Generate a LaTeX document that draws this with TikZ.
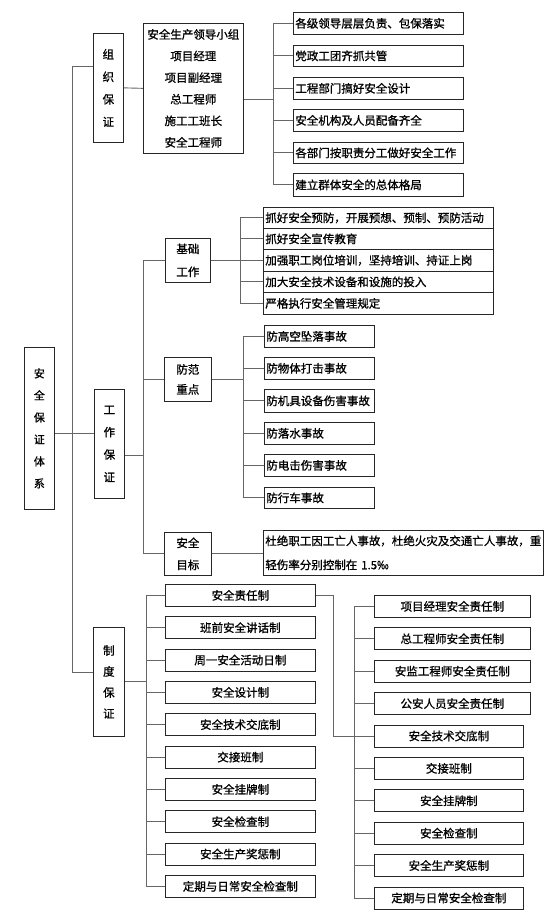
\documentclass[tikz,border=0pt]{standalone}
\usepackage{fontspec}
\newfontfamily\cjk[FakeBold=1]{Noto Sans CJK SC}
\usetikzlibrary{calc}
\tikzset{
  box/.style={draw=black!85, line width=0.7pt, inner sep=0pt, align=center,
    font=\cjk\fontsize{11.5}{22}\selectfont},
  conn/.style={draw=black!60, line width=0.9pt},
}
\newcommand\mybox[7][]{%
  \pgfmathsetmacro\bw{#5-#3}\pgfmathsetmacro\bh{#6-#4}%
  \node[box,anchor=north west,minimum width=\bw pt,minimum height=\bh pt,#1] (#2) at (#3,#4) {#7};}
\newcommand\lbox[7][]{%
  \pgfmathsetmacro\bw{#5-#3}\pgfmathsetmacro\bh{#6-#4}\pgfmathsetmacro\tw{#5-#3-4}%
  \node[box,anchor=north west,minimum width=\bw pt,minimum height=\bh pt,
    text width=\tw pt,inner xsep=2pt,align=left,#1] (#2) at (#3,#4) {#7};}
\begin{document}
\begin{tikzpicture}[x=1pt,y=-1pt]
\useasboundingbox (0,0) rectangle (554,918);
% root and level 1
\mybox[font=\cjk\fontsize{11}{22}\selectfont]{root}{24}{347}{54}{509}{安\\全\\保\\证\\体\\系}
\mybox[font=\cjk\fontsize{11.5}{22.5}\selectfont]{zz}{93}{33}{123}{142}{组\\织\\保\\证}
\mybox[font=\cjk\fontsize{11.5}{22.5}\selectfont]{gz}{94}{389}{124}{498}{工\\作\\保\\证}
\mybox[font=\cjk\fontsize{11.5}{21}\selectfont]{zd}{93}{627}{124}{736}{制\\度\\保\\证}
% organisation
\mybox[font=\cjk\fontsize{11.5}{21.6}\selectfont]{lead}{143}{23}{243}{153}{安全生产领导小组\\项目经理\\项目副经理\\总工程师\\施工工班长\\安全工程师}
\lbox{z1}{293}{12}{463}{34}{各级领导层层负责、包保落实}
\lbox{z2}{293}{45}{463}{66}{党政工团齐抓共管}
\lbox{z3}{293}{77}{463}{99}{工程部门搞好安全设计}
\lbox{z4}{293}{109}{463}{131}{安全机构及人员配备齐全}
\lbox{z5}{293}{142}{463}{163}{各部门按职责分工做好安全工作}
\lbox{z6}{293}{173}{463}{196}{建立群体安全的总体格局}
% work
\mybox[font=\cjk\fontsize{11.5}{23}\selectfont]{jc}{165}{238}{210}{282}{基础\\工作}
\lbox{j1}{263}{207}{493}{228}{抓好安全预防，开展预想、预制、预防活动}
\lbox{j2}{263}{228}{493}{249}{抓好安全宣传教育}
\lbox{j3}{263}{249}{493}{271}{加强职工岗位培训，坚持培训、持证上岗}
\lbox{j4}{263}{271}{493}{292}{加大安全技术设备和设施的投入}
\lbox{j5}{263}{292}{493}{314}{严格执行安全管理规定}
\mybox[font=\cjk\fontsize{11.5}{20}\selectfont]{fz}{164}{357}{211}{401}{防范\\重点}
\lbox{f1}{264}{325}{374}{347}{防高空坠落事故}
\lbox{f2}{264}{357}{374}{379}{防物体打击事故}
\lbox{f3}{264}{389}{374}{412}{防机具设备伤害事故}
\lbox{f4}{264}{422}{374}{444}{防落水事故}
\lbox{f5}{264}{454}{374}{476}{防电击伤害事故}
\lbox{f6}{264}{487}{374}{508}{防行车事故}
\mybox[font=\cjk\fontsize{11.5}{22}\selectfont]{aq}{164}{532}{211}{575}{安全\\目标}
\lbox[font=\cjk\fontsize{11.5}{24}\selectfont]{at}{263}{530}{543}{575}{杜绝职工因工亡人事故，杜绝火灾及交通亡人事故，重\\轻伤率分别控制在 1.5‰}
% system
\mybox{d1}{165}{584}{315}{606}{安全责任制}
\mybox{d2}{165}{616.3}{315}{638.3}{班前安全讲话制}
\mybox{d3}{165}{648.7}{315}{670.7}{周一安全活动日制}
\mybox{d4}{165}{681}{315}{703}{安全设计制}
\mybox{d5}{165}{713.3}{315}{735.3}{安全技术交底制}
\mybox{d6}{165}{745.7}{315}{767.7}{交接班制}
\mybox{d7}{165}{778}{315}{800}{安全挂牌制}
\mybox{d8}{165}{810.3}{315}{832.3}{安全检查制}
\mybox{d9}{165}{842.7}{315}{864.7}{安全生产奖惩制}
\mybox{d10}{165}{875}{315}{897}{定期与日常安全检查制}
\mybox{r1}{374}{595}{530}{617}{项目经理安全责任制}
\mybox{r2}{374}{627.4}{530}{649.4}{总工程师安全责任制}
\mybox{r3}{374}{659.8}{530}{681.8}{安监工程师安全责任制}
\mybox{r4}{374}{692.2}{530}{714.2}{公安人员安全责任制}
\mybox{r5}{374}{724.6}{523}{746.6}{安全技术交底制}
\mybox{r6}{374}{757}{523}{779}{交接班制}
\mybox{r7}{374}{789.4}{523}{811.4}{安全挂牌制}
\mybox{r8}{374}{821.8}{523}{843.8}{安全检查制}
\mybox{r9}{374}{854.2}{523}{876.2}{安全生产奖惩制}
\mybox{r10}{374}{886.6}{523}{908.6}{定期与日常安全检查制}
% connectors: main trunk
\coordinate (t1) at (72,66);
\coordinate (t2) at (72,672);
\coordinate (rj) at (54,433);
\draw[conn] (zz.west |- t1) -- (t1) -- (t2) -- (zd.west |- t2);
\draw[conn] (root.east |- rj) -- (gz.west |- rj);
% organisation
\draw[conn] (zz.east) -- (lead.west);
\coordinate (lj) at (243,99);
\coordinate (zb) at (273,0);
\draw[conn] (lead.east |- lj) -- (zb |- lj);
\draw[conn] (zb |- z1.west) -- (zb |- z6.west);
\foreach \i in {1,...,6} \draw[conn] (zb |- z\i.west) -- (z\i.west);
% work
\coordinate (wj) at (124,455);
\coordinate (wt) at (143,0);
\draw[conn] (gz.east |- wj) -- (wt |- wj);
\draw[conn] (wt |- jc.west) -- (wt |- aq.west);
\foreach \n in {jc,fz,aq} \draw[conn] (wt |- \n.west) -- (\n.west);
\coordinate (jb) at (240,0);
\draw[conn] (jc.east) -- (jb |- jc.east);
\draw[conn] (jb |- j1.west) -- (jb |- j5.west);
\foreach \i in {1,...,5} \draw[conn] (jb |- j\i.west) -- (j\i.west);
\coordinate (fb) at (243,0);
\draw[conn] (fz.east) -- (fb |- fz.east);
\draw[conn] (fb |- f1.west) -- (fb |- f6.west);
\foreach \i in {1,...,6} \draw[conn] (fb |- f\i.west) -- (f\i.west);
\draw[conn] (aq.east) -- (aq.east -| at.west);
% system
\coordinate (db) at (146,0);
\draw[conn] (zd.east) -- (db |- zd.east);
\draw[conn] (db |- d1.west) -- (db |- d10.west);
\foreach \i in {1,...,10} \draw[conn] (db |- d\i.west) -- (d\i.west);
\coordinate (dx) at (333,0);
\draw[conn] (d1.east) -- (dx |- d1.east) -- (dx |- r5.west) -- (r5.west);
\coordinate (rb) at (354,0);
\draw[conn] (rb |- r1.west) -- (rb |- r10.west);
\foreach \i in {1,2,3,4,6,7,8,9,10} \draw[conn] (rb |- r\i.west) -- (r\i.west);
\end{tikzpicture}
\end{document}
